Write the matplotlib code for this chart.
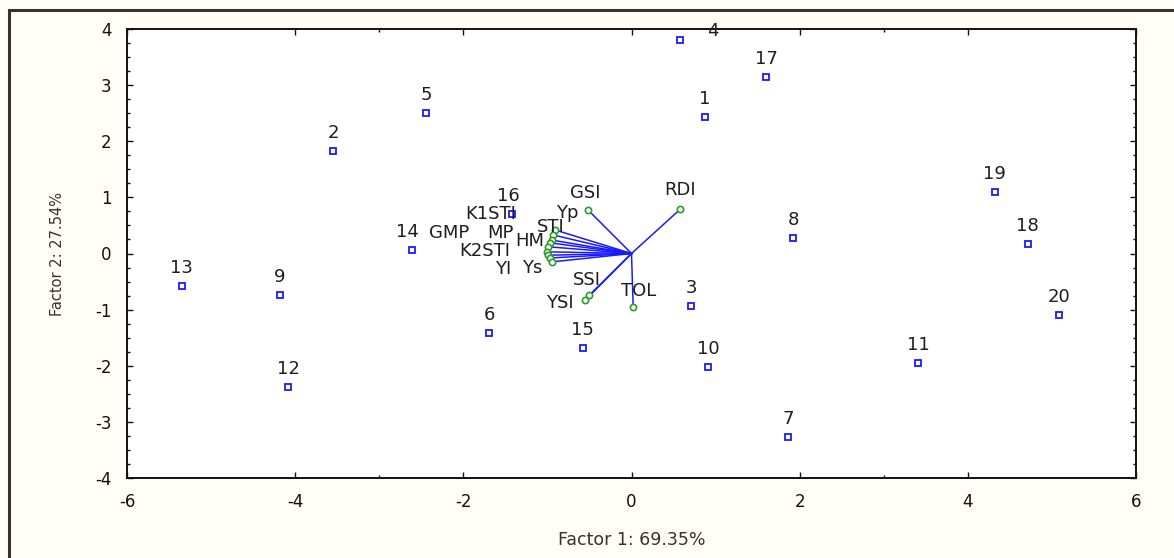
"""
PCA biplot: genotype scores and drought index loadings
"""
import matplotlib
matplotlib.use("Agg")
from matplotlib import pyplot as plt
from matplotlib.patches import Rectangle

# genotype scores (Factor 1, Factor 2)
genotypes = ["1", "2", "3", "4", "5", "6", "7", "8", "9", "10",
             "11", "12", "13", "14", "15", "16", "17", "18", "19", "20"]
geno_f1 = [0.87, -3.55, 0.71, 0.58, -2.44, -1.69, 1.86, 1.92, -4.18, 0.91,
           3.41, -4.08, -5.35, -2.61, -0.58, -1.42, 1.60, 4.71, 4.32, 5.08]
geno_f2 = [2.43, 1.83, -0.94, 3.81, 2.50, -1.42, -3.27, 0.28, -0.74, -2.02,
           -1.95, -2.38, -0.58, 0.06, -1.68, 0.70, 3.15, 0.17, 1.10, -1.09]

# index loadings (scaled vectors)
indices = ["GSI", "RDI", "TOL", "SSI", "YSI", "Yp", "K1STI", "STI", "MP",
           "GMP", "HM", "K2STI", "YI", "Ys"]
idx_f1 = [-0.52, 0.58, 0.02, -0.50, -0.55, -0.91, -0.93, -0.95, -0.97,
          -0.99, -1.00, -0.99, -0.97, -0.95]
idx_f2 = [0.78, 0.79, -0.95, -0.74, -0.83, 0.42, 0.33, 0.24, 0.19,
          0.12, 0.03, -0.03, -0.08, -0.15]

# label offsets in pixels (label centre relative to marker)
geno_off = {"4": (33, 9), "16": (-4, 18), "14": (-5, 18)}
idx_off = {"GSI": (-3, 17), "RDI": (0, 19), "TOL": (5, 16), "SSI": (-3, 15),
           "YSI": (-25, -3), "Yp": (12, 17), "K1STI": (-63, 21),
           "STI": (-1, 13), "MP": (-50, 10), "GMP": (-99, 14), "HM": (-18, 11),
           "K2STI": (-64, 4), "YI": (-47, -11), "Ys": (-19, -6)}

BLUE = "#1a1aff"
GREEN = "#2e9a2e"
TXT = "#1e1e1e"

plt.rcParams["font.family"] = ["DejaVu Sans"]
plt.rcParams["axes.unicode_minus"] = False

fig = plt.figure(figsize=(11.74, 5.58), dpi=100, facecolor="#fffdf6")
ax = fig.add_axes([127 / 1174, 1 - 478 / 558, (1136 - 127) / 1174,
                   (478 - 29) / 558])
ax.set_facecolor("white")

# outer frame of the exported graph window
fig.patches.append(Rectangle((9 / 1174, -0.1), 1.2, 1 - 10 / 558 + 0.1,
                             transform=fig.transFigure, fill=False,
                             edgecolor="#333333", linewidth=2.2, zorder=0))

# loading vectors
for x, y in zip(idx_f1, idx_f2):
    ax.plot([0, x], [0, y], color=BLUE, linewidth=1.1, zorder=2)
ax.plot(idx_f1, idx_f2, linestyle="none", marker="o", markersize=4.5,
        markerfacecolor="white", markeredgecolor=GREEN, markeredgewidth=1.2,
        zorder=3)

ax.plot(geno_f1, geno_f2, linestyle="none", marker="s", markersize=5,
        markerfacecolor="white", markeredgecolor=BLUE, markeredgewidth=1.3,
        zorder=3)

for name, x, y in zip(genotypes, geno_f1, geno_f2):
    dx, dy = geno_off.get(name, (0, 18))
    ax.annotate(name, (x, y), xytext=(dx, dy), textcoords="offset pixels",
                ha="center", va="center", fontsize=13, color=TXT,
                zorder=4, annotation_clip=False)

for name, x, y in zip(indices, idx_f1, idx_f2):
    dx, dy = idx_off[name]
    ax.annotate(name, (x, y), xytext=(dx, dy), textcoords="offset pixels",
                ha="center", va="center", fontsize=13, color=TXT,
                zorder=4)

ax.set_xlim(-6, 6)
ax.set_ylim(-4, 4)
ax.set_xticks(range(-6, 7, 2))
ax.set_yticks(range(-4, 5))
ax.set_xticks([-3, 3], minor=True)
ax.set_yticks([v / 4 for v in range(-16, 17)], minor=True)
ax.tick_params(which="both", direction="in", top=True, right=True,
               labelsize=12, colors="#111111", width=1)
ax.tick_params(which="major", length=4, pad=11)
ax.tick_params(which="minor", length=2.5)
for s in ax.spines.values():
    s.set_linewidth(1.4)
    s.set_color("#111111")

ax.set_xlabel("Factor 1: 69.35%", fontsize=12.5, color="#333333",
              labelpad=14)
ax.set_ylabel("Factor 2: 27.54%", fontsize=10.5, color="#333333",
              labelpad=22)

fig.savefig("out.png", dpi=100, facecolor=fig.get_facecolor())
